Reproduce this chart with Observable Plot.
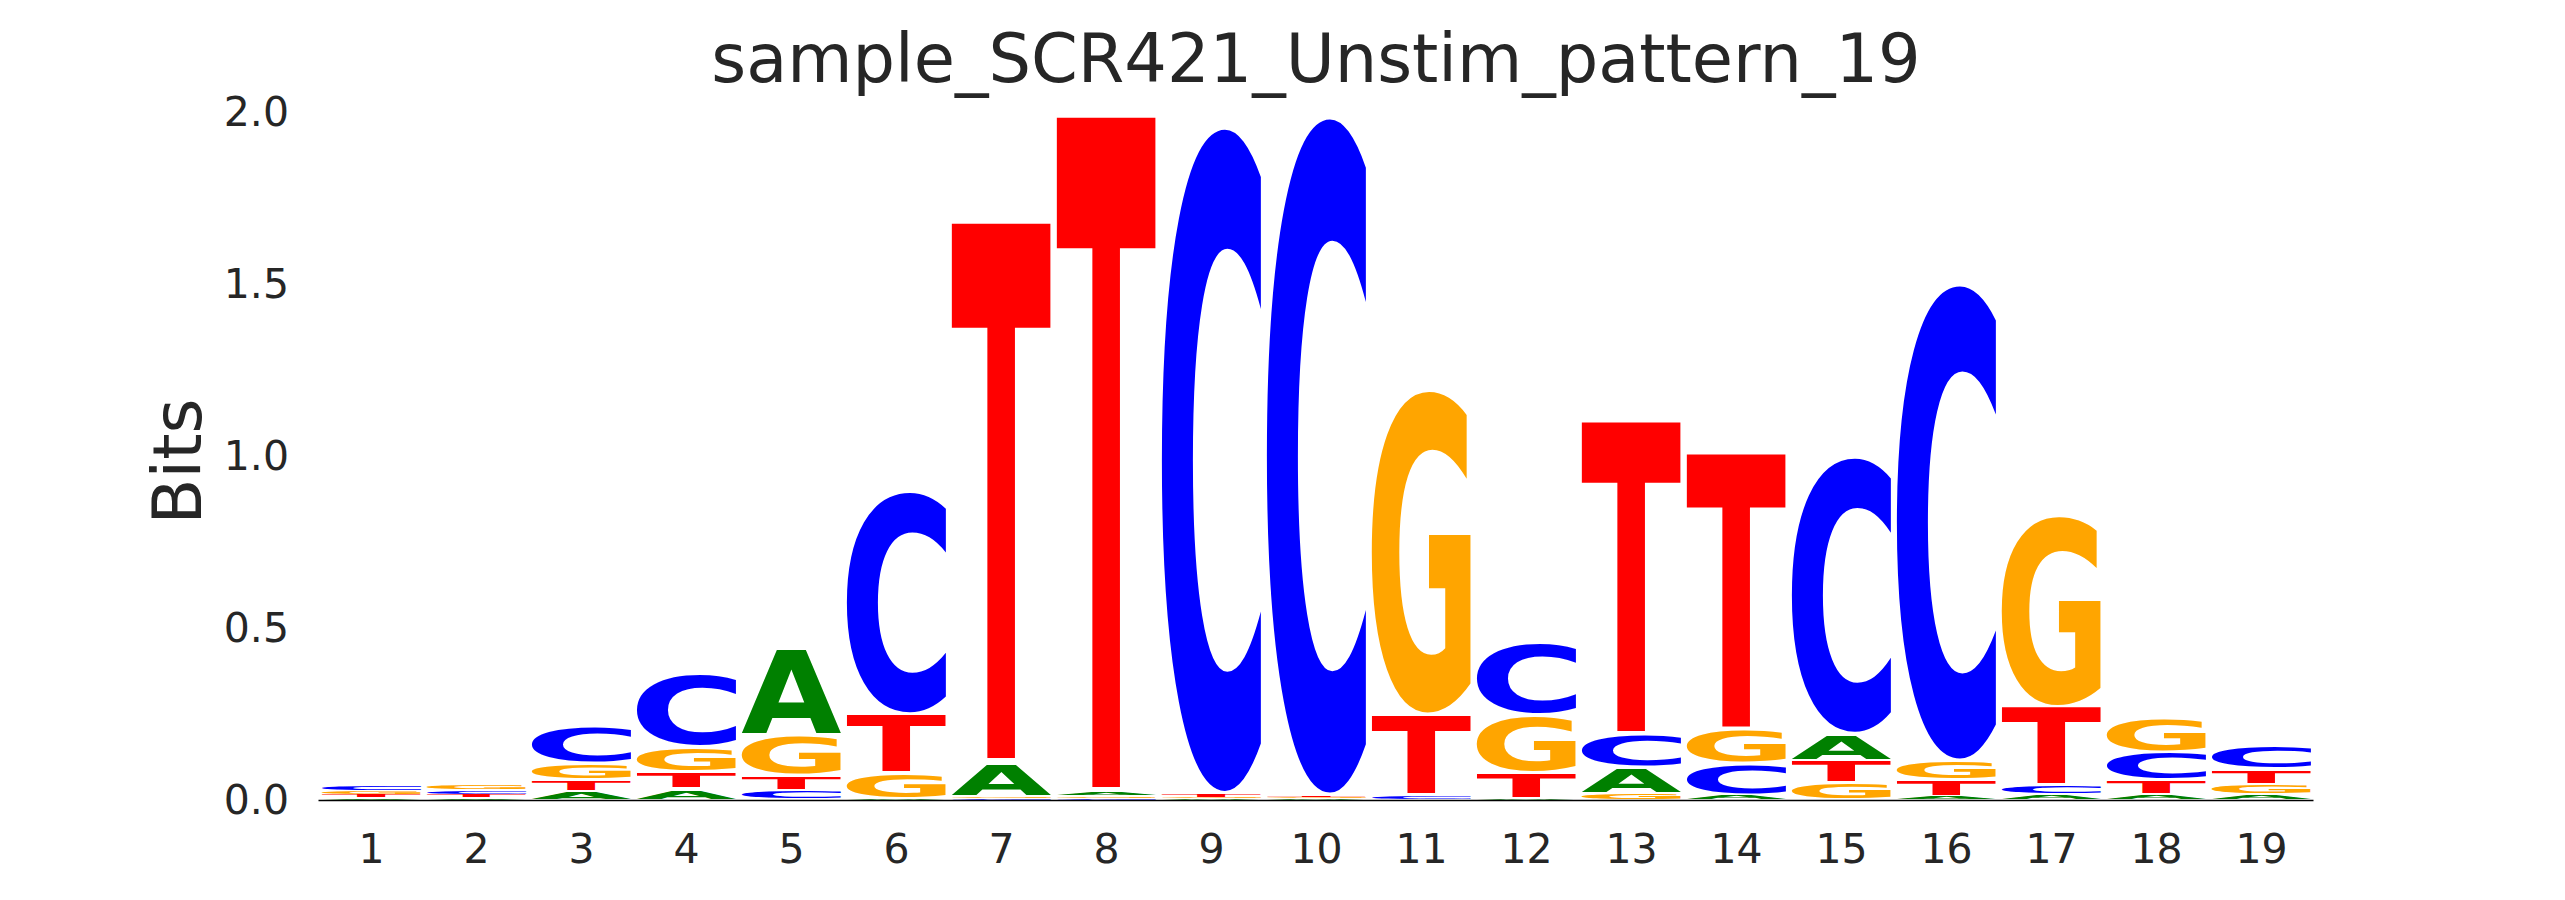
<!DOCTYPE html>
<html>
<head>
<meta charset="utf-8">
<script src="https://cdn.jsdelivr.net/npm/d3@7"></script>
<script src="https://cdn.jsdelivr.net/npm/@observablehq/plot@0.6"></script>
<style>
  html, body { margin: 0; padding: 0; background: #ffffff; }
  #wrap { position: relative; width: 2565px; height: 900px; overflow: hidden; }
  #title {
    position: absolute; left: 318.5px; width: 1995px; top: 26px;
    text-align: center; font-family: "DejaVu Sans", sans-serif; font-size: 67px;
    line-height: 1; color: #262626; white-space: nowrap;
  }
  #chart { position: absolute; left: 0; top: 0; }
</style>
</head>
<body>
<div id="wrap">
  <div id="chart"></div>
  <div id="title">sample_SCR421_Unstim_pattern_19</div>
</div>
<script>
// ---- data (bits per letter, per position) ----
const positions = [1, 2, 3, 4, 5, 6, 7, 8, 9, 10, 11, 12, 13, 14, 15, 16, 17, 18, 19];
const letters = ["A", "C", "G", "T"];
const bitsA = [0.007, 0.007, 0.024, 0.032, 0.252, 0.003, 0.097, 0.008, 0.004, 0.004, 0.002, 0.004, 0.076, 0.015, 0.078, 0.010, 0.016, 0.016, 0.015];
const bitsC = [0.015, 0.013, 0.106, 0.212, 0.027, 0.649, 0.005, 0.005, 1.940, 1.975, 0.012, 0.210, 0.095, 0.092, 0.806, 1.387, 0.027, 0.083, 0.067];
const bitsG = [0.011, 0.016, 0.048, 0.073, 0.119, 0.075, 0.005, 0.007, 0.004, 0.005, 0.945, 0.168, 0.019, 0.097, 0.051, 0.056, 0.557, 0.099, 0.031];
const bitsT = [0.009, 0.008, 0.034, 0.050, 0.044, 0.172, 1.575, 1.970, 0.012, 0.006, 0.235, 0.075, 0.913, 0.806, 0.064, 0.049, 0.229, 0.041, 0.044];
const yTicks = [0, 0.5, 1.0, 1.5, 2.0];
const letterColors = { A: "#008000", C: "#0000ff", G: "#ffa500", T: "#ff0000" };

const bits = { A: bitsA, C: bitsC, G: bitsG, T: bitsT };

(async function () {
  const FS = 200;
  const FONT = `bold ${FS}px "DejaVu Sans"`;
  try { await document.fonts.load(FONT); } catch (e) {}

  // stacked rows: smallest at bottom, largest on top
  const rows = [];
  positions.forEach((p, i) => {
    const vals = letters.map(L => ({ L, v: bits[L][i] })).sort((a, b) => a.v - b.v);
    let acc = 0;
    for (const { L, v } of vals) {
      rows.push({ pos: p, letter: L, y1: acc, y2: acc + v });
      acc += v;
    }
  });

  const chart = Plot.plot({
    width: 2565,
    height: 900,
    marginLeft: 318.5,
    marginRight: 251.5,
    marginTop: 112,
    marginBottom: 100,
    style: { fontFamily: "DejaVu Sans, sans-serif", fontSize: "41px", color: "#262626", background: "#ffffff" },
    x: {
      type: "band", domain: positions, paddingInner: 0.05, paddingOuter: 0.025, round: false,
      tickSize: 0, tickPadding: 33, label: null
    },
    y: {
      domain: [0, 2], ticks: yTicks, tickFormat: d3.format(".1f"),
      tickSize: 0, tickPadding: 30, label: null
    },
    color: { type: "identity" },
    marks: [
      Plot.barY(rows, { x: "pos", y1: "y1", y2: "y2", fill: d => letterColors[d.letter] }),
      Plot.ruleY([0], { stroke: "#000000", strokeWidth: 1.3 }),
      Plot.text(["Bits"], {
        text: d => d, frameAnchor: "left", dx: -118.5, dy: 5, rotate: -90,
        fontSize: 67, lineAnchor: "bottom", textAnchor: "middle", fill: "#262626"
      })
    ]
  });
  document.getElementById("chart").appendChild(chart);

  // glyph ink metrics
  const ctx = document.createElement("canvas").getContext("2d");
  ctx.font = FONT;
  ctx.textAlign = "left";
  ctx.textBaseline = "alphabetic";
  const metrics = {};
  for (const L of letters) {
    const m = ctx.measureText(L);
    metrics[L] = { l: m.actualBoundingBoxLeft, r: m.actualBoundingBoxRight, a: m.actualBoundingBoxAscent, d: m.actualBoundingBoxDescent };
  }

  // replace each bar (positioned by Plot's scales) with a stretched letter glyph
  const ns = "http://www.w3.org/2000/svg";
  const barG = chart.querySelector('g[aria-label="bar"]');
  const rects = Array.from(barG.querySelectorAll("rect"));
  rects.forEach((r, i) => {
    const d = rows[i];
    const x = +r.getAttribute("x"), y = +r.getAttribute("y");
    const w = +r.getAttribute("width"), h = +r.getAttribute("height");
    const m = metrics[d.letter];
    const pad = Math.min(1.5, h * 0.15);
    const hh = Math.max(h - 2 * pad, 0.01);
    const sx = w / (m.l + m.r), sy = hh / (m.a + m.d);
    const t = document.createElementNS(ns, "text");
    t.setAttribute("transform", `translate(${x},${y + pad}) scale(${sx},${sy}) translate(${m.l},${m.a})`);
    t.setAttribute("font-family", "DejaVu Sans");
    t.setAttribute("font-weight", "bold");
    t.setAttribute("font-size", FS);
    t.setAttribute("text-anchor", "start");
    t.setAttribute("dominant-baseline", "alphabetic");
    t.setAttribute("fill", letterColors[d.letter]);
    t.textContent = d.letter;
    barG.appendChild(t);
    r.remove();
  });
})();
</script>
</body>
</html>
